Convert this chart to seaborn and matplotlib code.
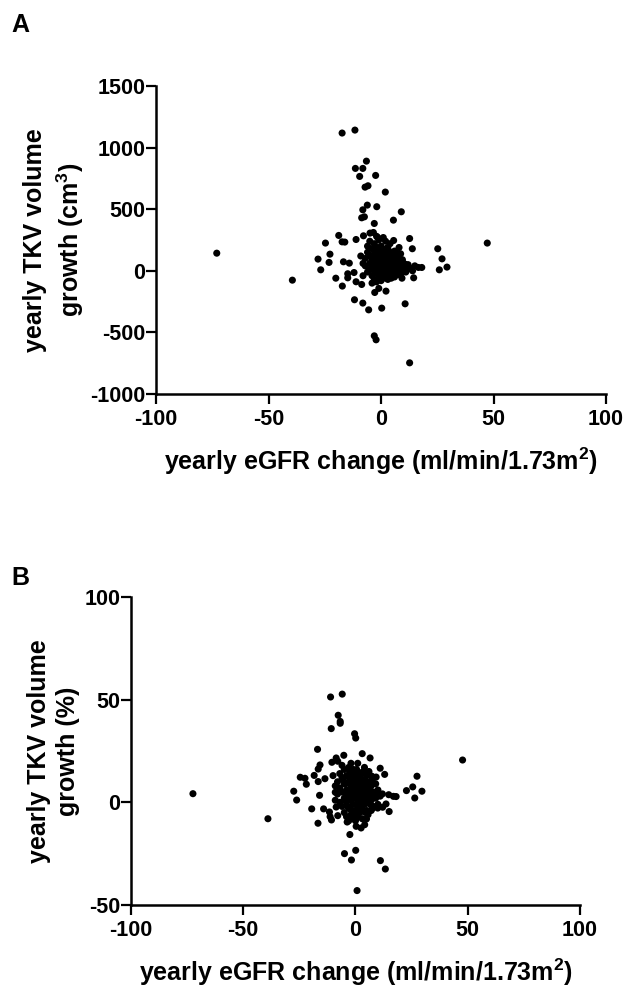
import numpy as np
import pandas as pd
import matplotlib
matplotlib.use("Agg")
import matplotlib.pyplot as plt
import seaborn as sns

sns.set_style("ticks")
plt.rcParams['font.family'] = ['Liberation Sans', 'DejaVu Sans']
plt.rcParams['font.weight'] = 'bold'
plt.rcParams['text.color'] = 'black'
plt.rcParams['axes.labelcolor'] = 'black'
plt.rcParams['xtick.color'] = 'black'
plt.rcParams['ytick.color'] = 'black'
plt.rcParams['axes.unicode_minus'] = False
plt.rcParams['mathtext.fontset'] = 'custom'
plt.rcParams['mathtext.rm'] = 'Liberation Sans:bold'
plt.rcParams['mathtext.it'] = 'Liberation Sans:bold'
plt.rcParams['mathtext.bf'] = 'Liberation Sans:bold'

# panel A: yearly eGFR change vs yearly TKV growth (cm3)
a_x = [-73.0, -39.4, 47.2, -17.3, -11.6, -6.5, -11.4, -8.1, -9.5, -2.4, -7.1, -5.8,
       1.9, -6.1, -1.9, -8.1, 9.0, -8.6, -7.4, 5.5, -3.0, -18.8, -17.3, -16.1, -24.7,
       -11.1, -7.8, -4.9, -3.4, -1.5, 5.6, 12.7, 8.0, 13.9, 25.2, 27.1, 25.9, 29.3,
       -28.0, -22.7, -23.1, -26.8, -20.1, -17.2, -14.8, -14.8, -16.7, -14.1, -12.0,
       -11.1, -8.6, -11.8, -8.1, -5.5, 0.3, -2.8, -1.0, 2.2, 10.7, 9.3, 14.5, -3.0,
       -2.2, 12.7, 16.6, 18.1, 12.3, 8.7, 10.7,
       -6, -5, -5, -5, -4, -4, -4, -4, -3, -3, -3, -3, -3, -2, -2, -2, -2, -2, -1, -1,
       -1, -1, 0, 0, 0, 0, 0, 1, 1, 1, 1, 1, 2, 2, 2, 2, 3, 3, 3, 3, 4, 4, 4, 4, 5, 5,
       5, 5, 6, 6, 6, 6, 7, 7, 7, 8, 8, 8, 9, 10, 10, 11, 12, 13, -7, -7, -6, -8, -9,
       -8, -1, 2, -2, 4, -6, 14, 9, 3, -4, 0, 6, -5, 1, 11, 15, 7,
       -2.5, -1.5, -0.5, 0.5, 1.5, 2.5, 3.5, 4.5, 5.5, 6.5, 7.5, 8.5, 9.5, -0.5, 0.5,
       1.5, 2.5, 3.5, 4.5, 5.5, 6.5, 7.5, 8.5, 9.5, -1.5, 0.5, 2.5, -2.5, -3.5, -3.5,
       1.5, 3.5, 5.5, 7.5, 10.5, 0.5, 2.5, 4.5, -0.5, 1.5]
a_y = [143, -76, 225, 1118, 1142, 890, 831, 831, 766, 774, 679, 690,
       639, 533, 520, 495, 479, 430, 438, 411, 384, 287, 235, 233, 225,
       254, 284, 306, 311, 271, 246, 262, 189, 179, 179, 97, 8, 30,
       95, 135, 68, 8, -60, -124, -24, -57, 73, 62, -14,
       -89, -111, -235, -262, -317, -303, -176, -143, -165, -268, -60, -57, -528,
       -560, -747, 27, 27, 19, 138, 54,
       150, 120, 60, 10, 180, 90, 30, -40, 220, 140, 70, 0, -70, 190, 110, 40, -20, -90, 160, 80,
       20, -50, 200, 130, 60, 0, -30, 170, 100, 40, -10, -60, 140, 70, 20, -40, 190, 110, 50, 0, 150, 80,
       30, -20, 120, 60, 10, -50, 160, 90, 40, -10, 100, 50, 0, 70, 20, -30, 40, 60, 10, 30, 50, 20, 100, 40, -10, 60, 120,
       -40, 250, 240, 280, 220, 200, 0, -20, -70, -100, -80, -50, 240, 270, -10, 40, 140,
       100, 60, 130, 90, 30, 110, 70, 130, 40, 110, 80, 50, 90, -10, 10,
       -30, 50, -10, 20, -30, 60, 20, 0, 20, 170, 180, 180, 30, 50, 110,
       140, 160, 90, -20, 40, -50, -10, -60, 40, 70]

# panel B: yearly eGFR change vs yearly TKV growth (%)
b_x = [-72.4, -39.0, 47.7, -11.1, -5.9, -7.7, -6.8, -6.8, -10.8, -0.4, 0.1, -16.9,
       -5.2, 3.0, 6.5, -8.6, -7.9, -10.5, -15.8, -16.6, 11.0, 13.0, 27.4, 25.5, 22.7,
       29.6, 26.4, -24.6, -22.5, -21.9, -18.4, -13.6, -16.6, -27.5, -26.2, -16.0, -19.5,
       -14.2, -11.6, -11.3, -10.7, -16.7, -8.6, -7.9, -9.0, -3.7, -2.5, -4.9, -1.8, 0.1,
       0.7, 11.1, 13.3, 0.3, 2.5, 4.1, 4.9, 5.6, 12.0, 14.8, 18.1, 16.9, 9.9, 12.1, 13.6,
       15.0, 9.2, 7.3,
       -8, -8, -7, -7, -7, -6, -6, -6, -5, -5, -5, -5, -4, -4, -4, -4, -3, -3, -3, -3,
       -2, -2, -2, -2, -1, -1, -1, -1, -1, 0, 0, 0, 0, 1, 1, 1, 1, 1, 2, 2, 2, 2, 3, 3,
       3, 3, 4, 4, 4, 5, 5, 5, 5, 6, 6, 7, 7, 8, 8, 9, 9, 10, -9, -9, -2, 1, 4, -6, 6,
       7, 3, -3, 0, -1, 2, 0, -4, 10, 11, -10,
       -4.5, -3.5, -2.5, -1.5, -0.5, 0.5, 1.5, 2.5, 3.5, 4.5, 5.5, 6.5, 7.5, -3.5, -1.5,
       0.5, 2.5, 4.5, 6.5, -2.5, 0.5, 3.5, 5.5, -0.5, 1.5, 3.5, -1.5, 2.5, 4.5, 0.5,
       8.5, -4.5, 1.5, -0.5, 3.5, 6.5, 7.5, 9.5, -5.5, 2.5, 0.5, -2.5, 5.5, 1.5, 3.5]
b_y = [4.2, -8.0, 20.6, 51.3, 52.7, 42.4, 39.4, 38.5, 35.9, 33.4, 31.3, 25.8,
       22.9, 23.7, 21.6, 21.6, 20.0, 19.5, 18.2, 16.2, 16.6, 13.6, 12.7, 7.5, 5.7,
       5.4, 2.1, 12.2, 11.7, 8.8, 13.1, 11.5, 10.1, 5.4, 1.1, 3.4, -3.2,
       -3.2, -4.7, -7.0, -8.6, -10.2, -2.3, -6.5, 4.9, -9.6, -15.7, -25.0, -28.1, -23.4,
       -43.0, -28.4, -32.5, -11.7, -12.5, -10.9, -8.1, -6.0, 4.1, 3.7, 2.8, 2.9, -2.8, -2.4, -0.8,
       -4.5, 12.3, 12.7,
       10, 4, 14, 7, 0, 12, 5, -2, 16, 9, 2, -5, 13, 6, 0, -7, 17, 10, 3, -3,
       14, 8, 1, -6, 16, 11, 5, -1, -8, 13, 7, 2, -4, 15, 9, 4, -2, -7, 12, 6, 0, -5, 14, 8,
       2, -3, 11, 5, -1, 13, 7, 1, -4, 10, 3, 8, 1, 5, -2, 9, 2, 6, 8, 1, 19, 19, 17, 18, 15,
       -4, -8, -9, 10, 8, 3, -9, 3, -1, 3, 13,
       9, 5, 12, 2, 9, 5, 12, 4, 10, 2, 9, 5, 11, -2, -4,
       -1, -3, -5, -1, 15, 16, 15, 14, 13, 7, 6, 7, 9, 8, 11,
       3, 1, -5, -6, -1, 8, -3, 5, 11, 14, 2, 5, 4, 1, 3]

x_ticks = [-100, -50, 0, 50, 100]
a_yticks = [-1000, -500, 0, 500, 1000, 1500]
b_yticks = [-50, 0, 50, 100]
x_label = "yearly eGFR change (ml/min/1.73m$^2$)"
a_ylabel = "yearly TKV volume\ngrowth (cm$^3$)"
b_ylabel = "yearly TKV volume\ngrowth (%)"

df_a = pd.DataFrame({'x': a_x, 'y': a_y})
df_b = pd.DataFrame({'x': b_x, 'y': b_y})

fig = plt.figure(figsize=(6.43, 9.86), dpi=100)
ax_a = fig.add_axes([0.2426, 0.6004, 0.70, 0.3124])
ax_b = fig.add_axes([0.2037, 0.0822, 0.6983, 0.3123])

panels = [(ax_a, df_a, a_yticks, a_ylabel), (ax_b, df_b, b_yticks, b_ylabel)]
for ax, d, yt, yl in panels:
    sns.scatterplot(data=d, x='x', y='y', ax=ax, color='black', s=26,
                    edgecolor='none', linewidth=0, legend=False)
    ax.set_xlim(-100, 100)
    ax.set_ylim(yt[0], yt[-1])
    ax.set_xticks(x_ticks)
    ax.set_yticks(yt)
    ax.set_xlabel(x_label, fontsize=18, fontweight='bold', labelpad=11)
    ax.set_ylabel(yl, fontsize=18, fontweight='bold', labelpad=3, linespacing=1.3)
    ax.tick_params(width=1.6, length=7, labelsize=15.5, color='black')
    ax.tick_params(axis='x', pad=4)
    ax.tick_params(axis='y', pad=0.5)
    for lab in ax.get_xticklabels() + ax.get_yticklabels():
        lab.set_fontweight('bold')
    for side in ['top', 'right']:
        ax.spines[side].set_visible(False)
    for side in ['left', 'bottom']:
        ax.spines[side].set_linewidth(1.8)
        ax.spines[side].set_color('black')

fig.text(11 / 643, 1 - 13 / 986, "A", fontsize=18, fontweight='bold', va='top', ha='left')
fig.text(11 / 643, 1 - 566 / 986, "B", fontsize=18, fontweight='bold', va='top', ha='left')

fig.savefig("out.png", dpi=100, facecolor='white')
